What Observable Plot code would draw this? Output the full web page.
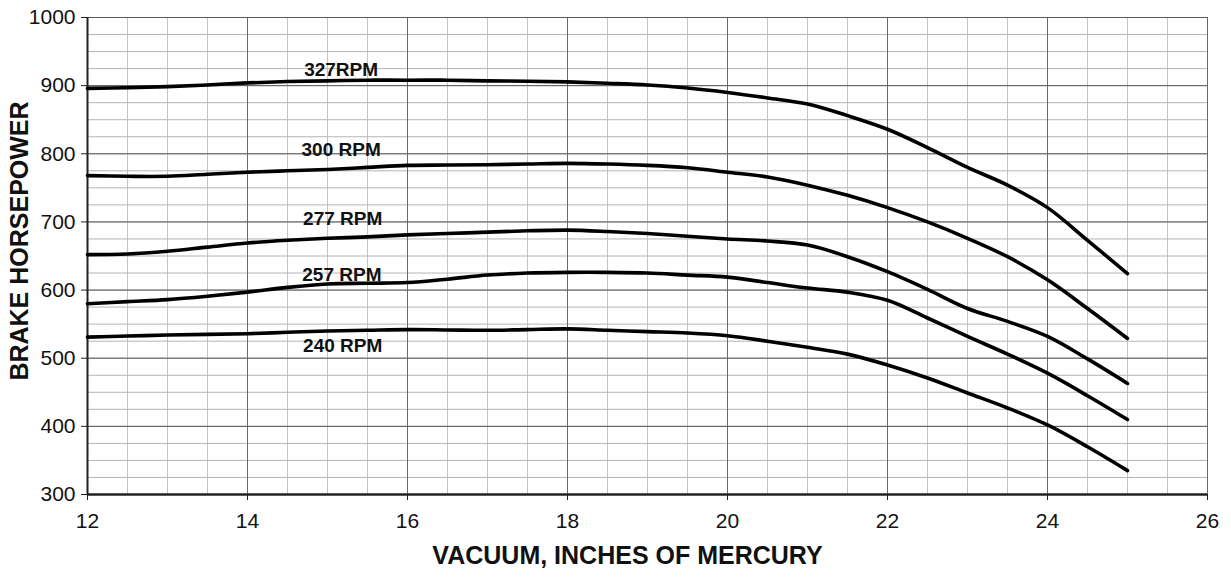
<!DOCTYPE html>
<html>
<head>
<meta charset="utf-8">
<script src="https://cdn.jsdelivr.net/npm/d3@7"></script>
<script src="https://cdn.jsdelivr.net/npm/@observablehq/plot@0.6"></script>
<style>
  html, body { margin: 0; padding: 0; background: #fff; }
  #chart svg { font-family: "Liberation Sans", Arial, sans-serif; }
  #chart svg g[aria-label="x-axis tick label"],
  #chart svg g[aria-label="y-axis tick label"] { font-size: 21px !important; }
</style>
</head>
<body>
<div id="chart"></div>
<script>
// Vacuum (inches of mercury)
const vacuum = [12, 12.5, 13, 13.5, 14, 14.5, 15, 15.5, 16, 16.5, 17, 17.5, 18, 18.5, 19, 19.5, 20, 20.5, 21, 21.5, 22, 22.5, 23, 23.5, 24, 24.5, 25];

// Brake horsepower by speed
const rpm327 = [896, 897, 898.5, 901, 904, 906, 907, 908, 908, 908, 907, 906.5, 905.5, 903.5, 901, 896.5, 890, 882, 873, 856, 836, 809, 780, 754, 721, 673, 624];
const rpm300 = [768, 767, 767, 770, 773, 775, 777, 780, 783, 783.5, 784, 785, 786, 785, 783, 779.5, 773, 766, 754, 739, 721, 700, 676, 649, 615, 573, 529];
const rpm277 = [652, 653, 657, 663, 669, 673, 676, 678, 681, 683, 685, 687, 688, 686, 683, 679, 675, 672, 666, 649, 627, 601, 573, 554, 532, 499, 463];
const rpm257 = [580, 583, 586, 591, 597, 604, 609, 610, 611, 616, 622, 625, 626, 626, 625, 622, 619, 611, 603, 597, 585, 559, 532, 506, 478, 445, 410];
const rpm240 = [531, 532.5, 534, 535, 536, 538, 540, 541, 542, 541.5, 541, 542, 543, 541, 539, 537, 533, 525, 516, 506, 490, 471, 449, 427, 402, 370, 335];

// Curve labels
const labelText = ["327RPM", "300 RPM", "277 RPM", "257 RPM", "240 RPM"];
const labelX = [15.17, 15.17, 15.19, 15.18, 15.19];
const labelY = [923, 805, 704, 622, 518];

// Axis ticks
const xTicks = [12, 14, 16, 18, 20, 22, 24, 26];
const yTicks = [300, 400, 500, 600, 700, 800, 900, 1000];
const xMinor = d3.range(12, 26.01, 0.5);
const yMinor = d3.range(300, 1000.01, 25);

const xTitle = "VACUUM, INCHES OF MERCURY";
const yTitle = "BRAKE HORSEPOWER";

const seriesList = [
  {name: "327", values: rpm327},
  {name: "300", values: rpm300},
  {name: "277", values: rpm277},
  {name: "257", values: rpm257},
  {name: "240", values: rpm240}
];
const rows = seriesList.flatMap(s => vacuum.map((v, i) => ({series: s.name, x: v, y: s.values[i]})));
const labels = labelText.map((t, i) => ({text: t, x: labelX[i], y: labelY[i]}));

const chart = Plot.plot({
  width: 1231,
  height: 580,
  marginLeft: 87,
  marginRight: 24,
  marginTop: 17,
  marginBottom: 86,
  style: {fontFamily: "Liberation Sans, Arial, sans-serif", background: "#fff"},
  x: {domain: [12, 26]},
  y: {domain: [300, 1000]},
  marks: [
    Plot.ruleX(xMinor, {stroke: "#c4c4c4", strokeWidth: 1}),
    Plot.ruleY(yMinor, {stroke: "#b4b4b4", strokeWidth: 1}),
    Plot.ruleX(xTicks, {stroke: "#6a6a6a", strokeWidth: 1}),
    Plot.ruleY(yTicks, {stroke: "#5a5a5a", strokeWidth: 1}),
    Plot.axisX({ticks: xTicks, tickSize: 6, tickPadding: 13, fontSize: 21, tickFormat: d3.format("d"), label: null, stroke: "#222", fill: "#111"}),
    Plot.axisY({ticks: yTicks, tickSize: 6, tickPadding: 6, fontSize: 21, tickFormat: d3.format("d"), label: null, stroke: "#222", fill: "#111"}),
    Plot.ruleX([12], {stroke: "#222", strokeWidth: 2}),
    Plot.ruleY([300], {stroke: "#222", strokeWidth: 2.5}),
    Plot.line(rows, {x: "x", y: "y", z: "series", curve: "catmull-rom", stroke: "#000", strokeWidth: 3.6, strokeLinecap: "round", strokeLinejoin: "round"}),
    Plot.text(labels, {x: "x", y: "y", text: "text", fontSize: 19, fontWeight: "bold", fill: "#111"}),
    Plot.text([xTitle], {frameAnchor: "bottom", textAnchor: "middle", dx: -20, dy: 69, fontSize: 25, fontWeight: "bold", fill: "#111"}),
    Plot.text([yTitle], {frameAnchor: "left", textAnchor: "middle", dx: -68, dy: -15, rotate: -90, fontSize: 25, fontWeight: "bold", fill: "#111"})
  ]
});
document.getElementById("chart").appendChild(chart);
</script>
</body>
</html>
